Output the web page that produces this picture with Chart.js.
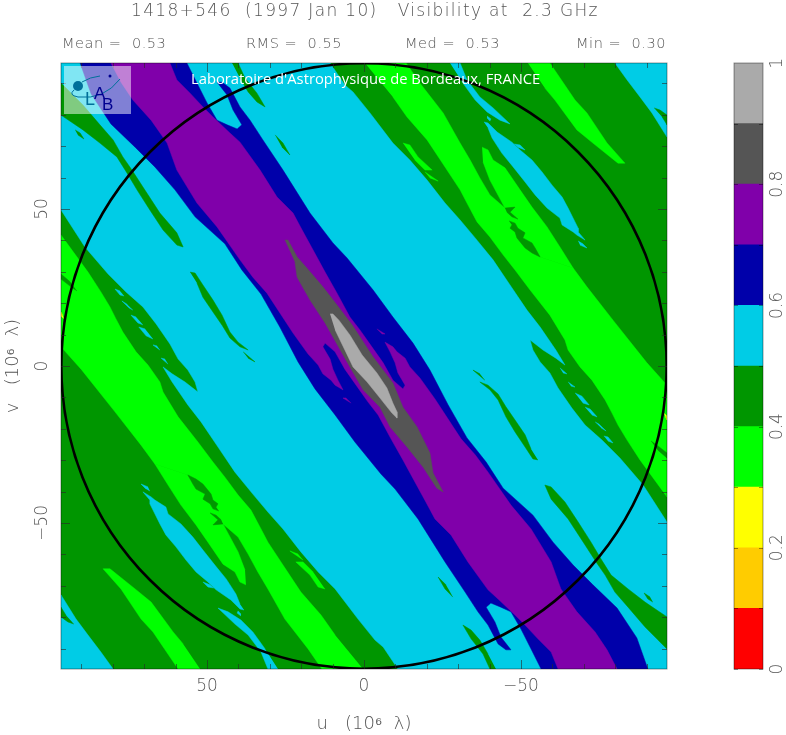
<!DOCTYPE html>
<html>
<head>
<meta charset="utf-8">
<title>1418+546 visibility</title>
<script src="https://cdn.jsdelivr.net/npm/chart.js@4/dist/chart.umd.min.js"></script>
<style>
    html, body { margin: 0; padding: 0; background: #fff; }
    #page { position: relative; width: 786px; height: 735px; overflow: hidden; }
    #mapBox { position: absolute; left: 0; top: 0; width: 700px; height: 735px; }
    #barBox { position: absolute; left: 700px; top: 0; width: 86px; height: 735px; }
    .head { position: absolute; white-space: pre; color: #555; font-family: "DejaVu Sans", sans-serif; font-weight: 200; }
    #title { left: 131px; top: 0; font-size: 17px; letter-spacing: 1.33px; line-height: 20px; }
    .stat { top: 35px; font-size: 14.5px; line-height: 16px; letter-spacing: 0.55px; }
    #lab { position: absolute; left: 191px; top: 68px; color: #fff; font: 14.75px "Open Sans", sans-serif; white-space: pre; }
    #logo { position: absolute; left: 0; top: 0; }
</style>
</head>
<body>
<div id="page">
    <div id="mapBox"><canvas id="mapChart"></canvas></div>
    <div id="barBox"><canvas id="barChart"></canvas></div>
    <div class="head" id="title">1418+546  (1997 Jan 10)   Visibility at  2.3 GHz</div>
    <div class="head stat" style="left:62px">Mean =  0.53</div>
    <div class="head stat" style="left:246px">RMS =  0.55</div>
    <div class="head stat" style="left:405px">Med =  0.53</div>
    <div class="head stat" style="left:576px">Min =  0.30</div>
    <svg id="logo" width="140" height="120">
        <rect x="64" y="66" width="67" height="48" fill="#fff" fill-opacity="0.5"></rect>
        <circle cx="78" cy="86" r="5" fill="#00709a"></circle>
        <path d="M82 82 Q90 77 100 76" fill="none" stroke="#00709a" stroke-width="1"></path>
        <path d="M74 90 Q68 95 78 97 Q104 100 120 79" fill="none" stroke="#00709a" stroke-width="1"></path>
        <circle cx="110" cy="76" r="1.5" fill="#000090"></circle>
        <text x="85" y="105" font-family="Liberation Sans" font-size="18" fill="#00709a">L</text>
        <text x="94" y="99" font-family="Liberation Sans" font-size="17" fill="#000090">A</text>
        <text x="102" y="110" font-family="Liberation Sans" font-size="17" fill="#000090">B</text>
    </svg>
    <div id="lab">Laboratoire d'Astrophysique de Bordeaux, FRANCE</div>
</div>

<script>
// u, v in units of 10^6 lambda, all outlines
const uvLimit = 96.5;
const uvRadius = 96.4;
const uTickLabels = [50, 0, -50];
const vTickLabels = [50, 0, -50];

const statsColors = {
    red: '#ff0000', orange: '#ffcc00', yellow: '#ffff00', bright: '#00ff00', green: '#009600',
    cyan: '#00cce6', navy: '#0000aa', purple: '#8000aa', darkGray: '#555555', lightGray: '#aaaaaa'
};

const greenField = [[96.5,96.5],[-96.5,96.5],[-96.5,-96.5],[96.5,-96.5]];

const cyanBand = [[96.5,96.5],[10.8,96.5],[6.1,89.5],[3.5,87.3],[-1.9,80.6],[-9.2,71],[-14.6,65.6],[-20.1,59.2],[-25.8,51.9],[-30.6,46.5],[-35.4,40.8],[-41.1,33.8],[-46.5,25.8],[-51.9,17.8],[-56.1,12.4],[-61.1,5.1],[-64,0.3],[-61.1,2.5],[-57,5.1],[-52.9,8.3],[-53.8,5.1],[-56.1,1.3],[-59.2,-2.2],[-61.8,-7],[-66.2,-13.4],[-70.4,-18.8],[-75.8,-23.6],[-81.5,-29.3],[-88.9,-37.9],[-96.5,-49.7],[-96.5,-96.5],
    [-10.8,-96.5],[-6.1,-89.5],[-3.5,-87.3],[1.9,-80.6],[9.2,-71],[14.6,-65.6],[20.1,-59.2],[25.8,-51.9],[30.6,-46.5],[35.4,-40.8],[41.1,-33.8],[46.5,-25.8],[51.9,-17.8],[56.1,-12.4],[61.1,-5.1],[64,-0.3],[61.1,-2.5],[57,-5.1],[52.9,-8.3],[53.8,-5.1],[56.1,-1.3],[59.2,2.2],[61.8,7],[66.2,13.4],[70.4,18.8],[75.8,23.6],[81.5,29.3],[88.9,37.9],[96.5,49.7]];

const cyanCornerNE = [[-79.9,96.5],[-83.8,91.1],[-87.9,85.7],[-91.7,80.6],[-96.5,72.9],[-96.5,96.5]];
const cyanCornerSW = [[79.9,-96.5],[83.8,-91.1],[87.9,-85.7],[91.7,-80.6],[96.5,-72.9],[96.5,-96.5]];
const greenInCornerNE = [[-92.4,82.2],[-94.3,81.5],[-96.5,79.9],[-96.5,76.8],[-94.9,79.4]];
const greenInCornerSW = [[92.4,-82.2],[94.3,-81.5],[96.5,-79.9],[96.5,-76.8],[94.9,-79.4]];

const cyanTopSliver = [[-27.4,96.5],[-30.6,96.5],[-32.8,91.1],[-36.9,85.7],[-41.1,82.2],[-46.5,77.1],[-43.3,78.3],[-39.2,80.9],[-35.4,84.7],[-31.5,90.1]];
const cyanBottomSliver = [[27.4,-96.5],[30.6,-96.5],[32.8,-91.1],[36.9,-85.7],[41.1,-82.2],[46.5,-77.1],[43.3,-78.3],[39.2,-80.9],[35.4,-84.7],[31.5,-90.1]];

const cyanLensNE = [[-38.2,77.7],[-39.5,77.4],[-42.4,74.5],[-47.1,71.3],[-49.7,68.8],[-53.5,65.6],[-56.7,61.8],[-59.9,57.6],[-63.1,53.8],[-65,50.3],[-67.2,45.9],[-68.2,43.9],[-68.2,42.7],[-70.4,40.1],[-67.8,41.7],[-66.6,42.7],[-63.1,44.9],[-62.4,47.1],[-58.3,50.3],[-54.5,54.5],[-51.3,58.6],[-47.5,63.4],[-43.9,67.8],[-40.8,72.6],[-39.5,75.8]];
const cyanLensSW = [[38.2,-77.7],[39.5,-77.4],[42.4,-74.5],[47.1,-71.3],[49.7,-68.8],[53.5,-65.6],[56.7,-61.8],[59.9,-57.6],[63.1,-53.8],[65,-50.3],[67.2,-45.9],[68.2,-43.9],[68.2,-42.7],[70.4,-40.1],[67.8,-41.7],[66.6,-42.7],[63.1,-44.9],[62.4,-47.1],[58.3,-50.3],[54.5,-54.5],[51.3,-58.6],[47.5,-63.4],[43.9,-67.8],[40.8,-72.6],[39.5,-75.8]];

const cyanFlecks = [
    [[-68.2,39.8],[-69.7,38.9],[-71,37.6],[-68.8,38.5]],
    [[-39.2,79.6],[-40.4,78.7],[-40.1,78],[-39.2,79]],
    [[-47.8,70.7],[-49.7,70.4],[-51.3,68.8],[-49,69.7]],
    [[68.2,-39.8],[69.7,-38.9],[71,-37.6],[68.8,-38.5]],
    [[39.2,-79.6],[40.4,-78.7],[40.1,-78],[39.2,-79]],
    [[47.8,-70.7],[49.7,-70.4],[51.3,-68.8],[49,-69.7]],
    [[-62.4,-0.6],[-64.6,-2.5],[-63.4,-2.2]],
    [[-65,-5.1],[-67.2,-6.7],[-65.9,-6.4]],
    [[-67.2,-8.6],[-69.4,-9.6],[-71.7,-12.4],[-69.7,-11.8]],
    [[-70.4,-13.1],[-72,-13.7],[-74.2,-16.2],[-72.6,-15.6]],
    [[-73.6,-17.8],[-74.8,-18.5],[-77.1,-20.7],[-75.5,-19.7]],
    [[-76.4,-22.3],[-77.7,-22.6],[-79.3,-24.5],[-77.7,-23.9]],
    [[62.4,0.6],[64.6,2.5],[63.4,2.2]],
    [[65,5.1],[67.2,6.7],[65.9,6.4]],
    [[67.2,8.6],[69.4,9.6],[71.7,12.4],[69.7,11.8]],
    [[70.4,13.1],[72,13.7],[74.2,16.2],[72.6,15.6]],
    [[73.6,17.8],[74.8,18.5],[77.1,20.7],[75.5,19.7]],
    [[76.4,22.3],[77.7,22.6],[79.3,24.5],[77.7,23.9]]
];

const navyBand = [[56.4,96.5],[53.2,90.1],[50,83.8],[46.8,78.3],[43.6,76.8],[40.4,75.5],[38.9,76.8],[41.7,81.5],[43.6,86.3],[46.8,90.4],[45.2,90.4],[42.7,88.5],[39.5,82.5],[36.3,78.3],[32.2,72],[25.8,62.4],[20.4,53.8],[17.2,48.7],[9.9,39.2],[5.4,34.4],[-2.9,24.2],[-9.2,15.6],[-15.6,7.3],[-21,-1.3],[-26.8,-12.4],[-32.8,-22.9],[-38.9,-30.6],[-44.3,-38.9],[-53.8,-47.5],[-60.2,-56.1],[-66.6,-63.4],[-72.9,-69.7],[-80.6,-77.1],[-86.9,-86.6],[-90.4,-96.5],
    [-56.4,-96.5],[-53.2,-90.1],[-50,-83.8],[-46.8,-78.3],[-43.6,-76.8],[-40.4,-75.5],[-38.9,-76.8],[-41.7,-81.5],[-43.6,-86.3],[-46.8,-90.4],[-45.2,-90.4],[-42.7,-88.5],[-39.5,-82.5],[-36.3,-78.3],[-32.2,-72],[-25.8,-62.4],[-20.4,-53.8],[-17.2,-48.7],[-9.9,-39.2],[-5.4,-34.4],[2.9,-24.2],[9.2,-15.6],[15.6,-7.3],[21,1.3],[26.8,12.4],[32.8,22.9],[38.9,30.6],[44.3,38.9],[53.8,47.5],[60.2,56.1],[66.6,63.4],[72.9,69.7],[80.6,77.1],[86.9,86.6],[90.4,96.5]];

const purpleBand = [[61.8,96.5],[59.6,91.1],[55.4,86.9],[51.3,82.5],[48.1,79.3],[42.7,74.2],[39.5,71.3],[33.1,62.4],[27.7,53.8],[22.6,48.7],[19.7,43.3],[15,34.7],[12.4,29.9],[8.6,23.2],[4.5,15.6],[1.3,11.5],[-2.5,6.1],[-6.1,1],[-9.2,-4.5],[-12.4,-7.3],[-13.1,-6.1],[-10.8,-2.2],[-9.9,1],[-8.3,4.5],[-6.7,7.6],[-9.2,6.1],[-10.5,4.5],[-13.1,2.5],[-14.6,-0.3],[-17.8,-3.8],[-22.6,-10.5],[-30.9,-23.2],[-35.4,-28.3],[-39.5,-33.8],[-46.8,-44.3],[-53.2,-51.9],[-59.6,-62.4],[-62.7,-71],[-67.8,-78.3],[-73.6,-84.7],[-77.4,-90.4],[-80.6,-96.5],
    [-61.8,-96.5],[-59.6,-91.1],[-55.4,-86.9],[-51.3,-82.5],[-48.1,-79.3],[-42.7,-74.2],[-39.5,-71.3],[-33.1,-62.4],[-27.7,-53.8],[-22.6,-48.7],[-19.7,-43.3],[-15,-34.7],[-12.4,-29.9],[-8.6,-23.2],[-4.5,-15.6],[-1.3,-11.5],[2.5,-6.1],[6.1,-1],[9.2,4.5],[12.4,7.3],[13.1,6.1],[10.8,2.2],[9.9,-1],[8.3,-4.5],[6.7,-7.6],[9.2,-6.1],[10.5,-4.5],[13.1,-2.5],[14.6,0.3],[17.8,3.8],[22.6,10.5],[30.9,23.2],[35.4,28.3],[39.5,33.8],[46.8,44.3],[53.2,51.9],[59.6,62.4],[62.7,71],[67.8,78.3],[73.6,84.7],[77.4,90.4],[80.6,96.5]];
const purpleFleckE = [[-4.1,11.8],[-6.7,10.2],[-5.7,10.2]];
const purpleFleckW = [[4.1,-11.8],[6.7,-10.2],[5.7,-10.2]];

const darkGrayCore = [[25.2,40.1],[24.2,40.1],[21.3,34.7],[18.2,31.2],[13.1,25.2],[8.6,19.4],[3.8,13.1],[-2.9,2.9],[-9.2,-5.4],[-12.4,-13.1],[-16.9,-19.4],[-21,-27.7],[-22,-34.1],[-25.2,-40.1],[-23.2,-38.9],[-18.8,-32.2],[-13.7,-25.8],[-8.3,-19.4],[-5.1,-13.1],[0.3,-7.6],[5.4,1.3],[12.4,13.7],[17.2,21],[21.3,28.3],[22,33.1]];
const lightGrayCore = [[10.8,16.6],[9.9,16.6],[8,14.6],[4.5,9.9],[0.6,3.5],[-4.1,-2.2],[-7.3,-7],[-9.2,-11.8],[-10.5,-14.6],[-10.5,-16.6],[-8.9,-15],[-5.1,-10.2],[-1,-5.1],[3.5,-0.3],[6.1,5.1],[9.2,11.5]];

const brightMainNE = [[-0.3,96.5],[-13.4,96.5],[-17.8,90.1],[-25.2,80.6],[-30.6,71],[-33.8,65.6],[-36.9,59.9],[-40.1,54.5],[-44.9,50.3],[-56.1,34.7],[-66.6,31.2],[-71,25.2],[-79.3,14.6],[-90.1,1],[-96.5,-6.1],[-96.5,-41.7],[-87.9,-29.9],[-83.8,-23.6],[-80.9,-18.8],[-79,-15],[-76.8,-10.8],[-72.6,-4.5],[-68.8,-0.3],[-65,5.1],[-64,8.3],[-59.2,16.2],[-52.9,24.2],[-48.1,30.6],[-44.3,35.4],[-40.1,41.1],[-36,45.9],[-32.8,51.9],[-30.6,56.1],[-25.8,63.4],[-20.1,72],[-13.7,79.3],[-9.2,85.7]];
const brightMainSW = [[0.3,-96.5],[13.4,-96.5],[17.8,-90.1],[25.2,-80.6],[30.6,-71],[33.8,-65.6],[36.9,-59.9],[40.1,-54.5],[44.9,-50.3],[56.1,-34.7],[66.6,-31.2],[71,-25.2],[79.3,-14.6],[90.1,-1],[96.5,6.1],[96.5,41.7],[87.9,29.9],[83.8,23.6],[80.9,18.8],[79,15],[76.8,10.8],[72.6,4.5],[68.8,0.3],[65,-5.1],[64,-8.3],[59.2,-16.2],[52.9,-24.2],[48.1,-30.6],[44.3,-35.4],[40.1,-41.1],[36,-45.9],[32.8,-51.9],[30.6,-56.1],[25.8,-63.4],[20.1,-72],[13.7,-79.3],[9.2,-85.7]];

const brightTongueNE = [[-37.6,69.7],[-39.5,68.8],[-41.1,65.6],[-44.9,63.1],[-49.7,56.1],[-53.5,50.6],[-58.3,44.3],[-62.4,37.9],[-66.6,31.2],[-56.1,34.7],[-50.6,39.2],[-46.5,45.9],[-44.9,50.3],[-40.1,59.2],[-37.9,65]];
const brightTongueSW = [[37.6,-69.7],[39.5,-68.8],[41.1,-65.6],[44.9,-63.1],[49.7,-56.1],[53.5,-50.6],[58.3,-44.3],[62.4,-37.9],[66.6,-31.2],[56.1,-34.7],[50.6,-39.2],[46.5,-45.9],[44.9,-50.3],[40.1,-59.2],[37.9,-65]];

const brightOuterNE = [[-52.2,96.5],[-59.2,96.5],[-67.2,84.7],[-71,80.6],[-77.4,71],[-83.1,64.6],[-80.9,64.6],[-72.9,71],[-67.8,75.2],[-60.8,84.7],[-57.6,88.5]];
const brightOuterSW = [[52.2,-96.5],[59.2,-96.5],[67.2,-84.7],[71,-80.6],[77.4,-71],[83.1,-64.6],[80.9,-64.6],[72.9,-71],[67.8,-75.2],[60.8,-84.7],[57.6,-88.5]];

const brightFlecks = [
    [[-12.4,71],[-14.6,70.4],[-17.2,66.6],[-21.7,62.4],[-19.4,62.4],[-16.2,65.6]],
    [[-19.4,61.8],[-23.6,58.9],[-21,59.9]],
    [[12.4,-71],[14.6,-70.4],[17.2,-66.6],[21.7,-62.4],[19.4,-62.4],[16.2,-65.6]],
    [[19.4,-61.8],[23.6,-58.9],[21,-59.9]]
];

const greenPatches = [
    [[-44.9,50.3],[-48.1,50.6],[-46.5,49],[-49,46.8],[-47.1,47.5],[-45.5,49]],
    [[-46.2,46.2],[-48.1,45.5],[-49,43.9],[-51.3,42.4],[-50.6,40.8],[-53.5,39.2],[-54.5,37.6],[-56.1,34.7],[-53.5,36],[-51.3,37.6],[-48.7,40.8],[-48.1,42.7],[-46.5,43.9],[-47.1,44.9]],
    [[44.9,-50.3],[48.1,-50.6],[46.5,-49],[49,-46.8],[47.1,-47.5],[45.5,-49]],
    [[46.2,-46.2],[48.1,-45.5],[49,-43.9],[51.3,-42.4],[50.6,-40.8],[53.5,-39.2],[54.5,-37.6],[56.1,-34.7],[53.5,-36],[51.3,-37.6],[48.7,-40.8],[48.1,-42.7],[46.5,-43.9],[47.1,-44.9]],
    [[-91.4,-23.9],[-93.3,-25.2],[-96.5,-27.7],[-96.5,-29.3],[-93.6,-26.8]],
    [[91.4,23.9],[93.3,25.2],[96.5,27.7],[96.5,29.3],[93.6,26.8]]
];

const greenSlivers = [
    [[96.5,90.1],[89.5,83.1],[84.1,76.8],[79.9,72],[76.8,66.6],[73.9,62.4],[70.4,57],[65,48.7],[59.6,42.4],[57.6,37.9],[59.6,38.5],[64,43.3],[68.2,49.7],[72.3,56.1],[75.5,61.5],[78.7,66.6],[84.1,71],[89.5,75.2],[96.5,79.9]],
    [[-96.5,-90.1],[-89.5,-83.1],[-84.1,-76.8],[-79.9,-72],[-76.8,-66.6],[-73.9,-62.4],[-70.4,-57],[-65,-48.7],[-59.6,-42.4],[-57.6,-37.9],[-59.6,-38.5],[-64,-43.3],[-68.2,-49.7],[-72.3,-56.1],[-75.5,-61.5],[-78.7,-66.6],[-84.1,-71],[-89.5,-75.2],[-96.5,-79.9]],
    [[92,75.2],[90.4,74.2],[89.2,72.3],[91.1,73.6]],
    [[-92,-75.2],[-90.4,-74.2],[-89.2,-72.3],[-91.1,-73.6]],
    [[55.4,29.9],[53.8,29.6],[51.3,25.8],[48.1,21],[45.2,16.2],[42.7,10.8],[40.1,7.6],[36.9,5.1],[39.5,6.1],[42.7,8.9],[45.2,13],[48.1,17.2],[51.3,21.9],[53.2,26.4]],
    [[-55.4,-29.9],[-53.8,-29.6],[-51.3,-25.8],[-48.1,-21],[-45.2,-16.2],[-42.7,-10.8],[-40.1,-7.6],[-36.9,-5.1],[-39.5,-6.1],[-42.7,-8.9],[-45.2,-13],[-48.1,-17.2],[-51.3,-21.9],[-53.2,-26.4]],
    [[38.5,4.5],[34.7,1.3],[36.9,2.5]],
    [[-38.5,-4.5],[-34.7,-1.3],[-36.9,-2.5]],
    [[42,96.5],[40.1,96.5],[37.9,91.7],[34.1,86.9],[31.5,82.5],[34.1,84.1],[36.9,87.3],[39.5,91.7]],
    [[-42,-96.5],[-40.1,-96.5],[-37.9,-91.7],[-34.1,-86.9],[-31.5,-82.5],[-34.1,-84.1],[-36.9,-87.3],[-39.5,-91.7]],
    [[28.3,73.6],[25.8,71],[23.6,67.2],[26.1,69.7]],
    [[-28.3,-73.6],[-25.8,-71],[-23.6,-67.2],[-26.1,-69.7]]
];

const yellowFlecks = [
    [[-95.5,-15],[-96.5,-15.9],[-96.5,-17.2],[-96,-16.2]],
    [[95.5,15],[96.5,15.9],[96.5,17.2],[96,16.2]]
];

// colour bar
const barLevels = [0, 0.1, 0.2, 0.3, 0.4, 0.5, 0.6, 0.7, 0.8, 0.9];
const barSteps = [0.1, 0.1, 0.1, 0.1, 0.1, 0.1, 0.1, 0.1, 0.1, 0.1];
const barColors = ['red', 'orange', 'yellow', 'bright', 'green', 'cyan', 'navy', 'purple', 'darkGray', 'lightGray'];
const barTickLabels = [0, 0.2, 0.4, 0.6, 0.8, 1];

// back to front
const c = statsColors;
const layers = [
    [greenField, c.green], [cyanBand, c.cyan],
    [cyanCornerNE, c.cyan], [cyanCornerSW, c.cyan], [greenInCornerNE, c.green], [greenInCornerSW, c.green],
    [navyBand, c.navy], [purpleBand, c.purple], [purpleFleckE, c.purple], [purpleFleckW, c.purple],
    [darkGrayCore, c.darkGray], [lightGrayCore, c.lightGray],
    [brightMainNE, c.bright], [brightMainSW, c.bright], [brightTongueNE, c.bright], [brightTongueSW, c.bright],
    [brightOuterNE, c.bright], [brightOuterSW, c.bright]
];
brightFlecks.forEach(p => layers.push([p, c.bright]));
greenPatches.forEach(p => layers.push([p, c.green]));
[cyanTopSliver, cyanBottomSliver, cyanLensNE, cyanLensSW].forEach(p => layers.push([p, c.cyan]));
cyanFlecks.forEach(p => layers.push([p, c.cyan]));
greenSlivers.forEach(p => layers.push([p, c.green]));
yellowFlecks.forEach(p => layers.push([p, c.yellow]));

const axisFont = { family: '"DejaVu Sans", sans-serif', size: 17, weight: '200' };
const axisTitleFont = { family: '"DejaVu Sans", sans-serif', size: 18, weight: '200' };
const axisGray = '#555';

function tickLine(ctx, x1, y1, x2, y2) {
    ctx.beginPath();
    ctx.moveTo(x1, y1);
    ctx.lineTo(x2, y2);
    ctx.stroke();
}

// ticks point inward and the frame sits over the map, the circle is the uv limit
const framePlugin = {
    id: 'frame',
    afterDatasetsDraw(chart) {
        const { ctx, chartArea: a, scales } = chart;
        ctx.save();
        ctx.beginPath();
        ctx.rect(a.left, a.top, a.width, a.height);
        ctx.clip();
        const rx = Math.abs(scales.x.getPixelForValue(uvRadius) - scales.x.getPixelForValue(0));
        ctx.strokeStyle = '#000';
        ctx.lineWidth = 2.6;
        ctx.beginPath();
        ctx.arc(scales.x.getPixelForValue(0), scales.y.getPixelForValue(0), rx, 0, Math.PI * 2);
        ctx.stroke();
        ctx.restore();

        ctx.save();
        ctx.strokeStyle = 'rgba(40,40,40,0.6)';
        ctx.lineWidth = 1;
        scales.x.ticks.forEach(t => {
            const px = Math.round(scales.x.getPixelForValue(t.value)) + 0.5;
            const len = t.value % 50 === 0 ? 9 : 5;
            tickLine(ctx, px, a.top, px, a.top + len);
            tickLine(ctx, px, a.bottom, px, a.bottom - len);
        });
        scales.y.ticks.forEach(t => {
            const py = Math.round(scales.y.getPixelForValue(t.value)) + 0.5;
            const len = t.value % 50 === 0 ? 9 : 5;
            tickLine(ctx, a.left, py, a.left + len, py);
            tickLine(ctx, a.right, py, a.right - len, py);
        });
        ctx.strokeStyle = 'rgba(0,0,0,0.4)';
        ctx.strokeRect(a.left, a.top, a.width, a.height);
        ctx.restore();
    }
};

const barFramePlugin = {
    id: 'barFrame',
    afterDatasetsDraw(chart) {
        const { ctx, chartArea: a, scales } = chart;
        ctx.save();
        ctx.strokeStyle = 'rgba(0,0,0,0.4)';
        ctx.lineWidth = 1;
        ctx.strokeRect(a.left, a.top, a.width, a.height);
        barLevels.forEach(level => {
            const py = Math.round(scales.y.getPixelForValue(level)) + 0.5;
            tickLine(ctx, a.left, py, a.left + 4, py);
            tickLine(ctx, a.right, py, a.right - 4, py);
        });
        ctx.restore();
    }
};

new Chart(document.getElementById('mapChart'), {
    type: 'scatter',
    data: {
        datasets: layers.map((layer, i) => ({
            data: layer[0].map(p => ({ x: p[0], y: p[1] })),
            showLine: true,
            fill: 'shape',
            tension: 0,
            backgroundColor: layer[1],
            borderColor: layer[1],
            borderWidth: 0.5,
            pointRadius: 0,
            order: layers.length - i
        }))
    },
    options: {
        responsive: true,
        maintainAspectRatio: false,
        animation: false,
        events: [],
        layout: { autoPadding: false, padding: { top: 63, right: 33, left: 0, bottom: 0 } },
        plugins: { legend: { display: false }, tooltip: { enabled: false } },
        scales: {
            x: {
                type: 'linear',
                reverse: true,
                min: -uvLimit,
                max: uvLimit,
                afterFit(scale) { scale.height = 66; },
                grid: { display: false, drawTicks: false },
                border: { display: false },
                title: { display: true, text: 'u   (10⁶  λ)', color: axisGray, font: axisTitleFont, padding: { top: 6, bottom: 0 } },
                ticks: {
                    stepSize: 10,
                    includeBounds: false,
                    autoSkip: false,
                    maxRotation: 0,
                    padding: 7,
                    color: axisGray,
                    font: axisFont,
                    callback: v => uTickLabels.includes(v) ? String(v).replace('-', '−') : ''
                }
            },
            y: {
                type: 'linear',
                min: -uvLimit,
                max: uvLimit,
                afterFit(scale) { scale.width = 61; },
                grid: { display: false, drawTicks: false },
                border: { display: false },
                title: { display: true, text: 'v   (10⁶  λ)', color: axisGray, font: axisTitleFont, padding: { top: 3, bottom: 0 } },
                ticks: {
                    stepSize: 10,
                    includeBounds: false,
                    autoSkip: false,
                    minRotation: 90,
                    maxRotation: 90,
                    crossAlign: 'center',
                    padding: 0,
                    color: axisGray,
                    font: axisFont,
                    callback: v => vTickLabels.includes(v) ? String(v).replace('-', '−') : ''
                }
            }
        }
    },
    plugins: [framePlugin]
});

new Chart(document.getElementById('barChart'), {
    type: 'bar',
    data: {
        labels: ['level'],
        datasets: barSteps.map((step, i) => ({
            label: String(barLevels[i]),
            data: [step],
            backgroundColor: statsColors[barColors[i]],
            borderWidth: 0,
            barPercentage: 1,
            categoryPercentage: 1
        }))
    },
    options: {
        responsive: true,
        maintainAspectRatio: false,
        animation: false,
        events: [],
        layout: { autoPadding: false, padding: { top: 63, left: 34, right: 0, bottom: 66 } },
        plugins: { legend: { display: false }, tooltip: { enabled: false } },
        scales: {
            x: { stacked: true, display: false },
            y: {
                stacked: true,
                position: 'right',
                min: 0,
                max: 1,
                afterFit(scale) { scale.width = 23; },
                grid: { display: false, drawTicks: false },
                border: { display: false },
                ticks: {
                    stepSize: 0.2,
                    autoSkip: false,
                    minRotation: 90,
                    maxRotation: 90,
                    crossAlign: 'center',
                    padding: 1,
                    color: axisGray,
                    font: axisFont,
                    callback: v => barTickLabels.find(t => Math.abs(t - v) < 1e-6) !== undefined ? String(+v.toFixed(1)) : ''
                }
            }
        }
    },
    plugins: [barFramePlugin]
});
</script>
</body>
</html>
